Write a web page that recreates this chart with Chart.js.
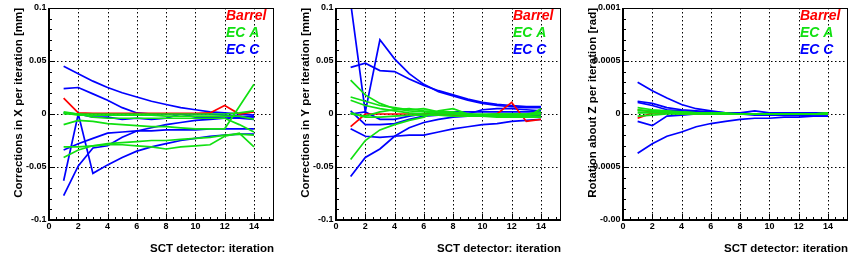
<!DOCTYPE html>
<html>
<head>
<meta charset="utf-8">
<script src="https://cdn.jsdelivr.net/npm/chart.js@4.4.1/dist/chart.umd.min.js"></script>
<style>
  body { margin: 0; background: #fff; }
  #wrap { position: relative; width: 861px; height: 261px; }
  canvas { position: absolute; top: 0; }
</style>
</head>
<body>
<div id="wrap">
  <canvas id="c_x" width="287" height="261" style="left:0px"></canvas>
  <canvas id="c_y" width="287" height="261" style="left:287px"></canvas>
  <canvas id="c_z" width="287" height="261" style="left:574px"></canvas>
</div>
<script>
// iterations of the SCT alignment
var iterations = [1, 2, 3, 4, 5, 6, 7, 8, 9, 10, 11, 12, 13, 14];

var xTickValues = [0, 2, 4, 6, 8, 10, 12, 14];
var xTickLabels = ['0', '2', '4', '6', '8', '10', '12', '14'];
var yTickValuesMm = [-0.1, -0.05, 0, 0.05, 0.1];
var yTickLabelsMm = ['-0.1', '-0.05', '0', '0.05', '0.1'];
var yTickValuesRad = [-0.001, -0.0005, 0, 0.0005, 0.001];
var yTickLabelsRad = ['-0.00', '-0.0005', '0', '0.0005', '0.001'];

var legendLabels = ['Barrel', 'EC A', 'EC C'];

// corrections in X [mm]
var xBarrel = [
  [0.015, 0.001, 0.0005, 0.0005, 0.0005, 0.0005, 0.0005, 0.0005, 0.0005, 0.0005, 0.001, 0.008, 0.000, 0.002]
];
var xECA = [
  [0.002, 0.000, 0.000, 0.000, 0.000, 0.000, 0.000, 0.000, 0.000, 0.000, 0.000, 0.000, 0.001, 0.003],
  [0.001, -0.001, -0.001, -0.001, -0.001, -0.001, -0.001, -0.002, -0.002, -0.002, -0.002, -0.002, -0.002, -0.005],
  [-0.010, -0.006, -0.007, -0.009, -0.010, -0.011, -0.012, -0.012, -0.013, -0.014, -0.014, -0.014, 0.007, 0.028],
  [-0.031, -0.031, -0.030, -0.029, -0.029, -0.030, -0.031, -0.033, -0.031, -0.030, -0.029, -0.021, -0.018, -0.031],
  [-0.041, -0.034, -0.030, -0.028, -0.027, -0.026, -0.025, -0.025, -0.024, -0.023, -0.022, -0.020, -0.019, -0.020],
  [0.000, 0.000, -0.003, -0.004, -0.004, -0.004, -0.004, -0.004, -0.004, -0.004, -0.004, -0.004, -0.010, -0.017]
];
var xECC = [
  [0.045, 0.038, 0.031, 0.025, 0.020, 0.016, 0.012, 0.009, 0.006, 0.004, 0.002, 0.001, 0.000, -0.001],
  [0.024, 0.025, 0.019, 0.013, 0.006, 0.001, 0.000, 0.000, 0.000, 0.000, 0.000, -0.001, -0.002, -0.003],
  [-0.063, 0.000, -0.056, -0.048, -0.041, -0.035, -0.031, -0.028, -0.025, -0.023, -0.021, -0.020, -0.019, -0.019],
  [-0.034, -0.028, -0.023, -0.018, -0.017, -0.016, -0.016, -0.015, -0.015, -0.015, -0.014, -0.014, -0.014, -0.014],
  [-0.077, -0.049, -0.032, -0.030, -0.022, -0.016, -0.013, -0.010, -0.008, -0.006, -0.005, -0.004, -0.003, -0.002],
  [0.001, 0.000, -0.003, -0.003, -0.005, -0.004, -0.005, -0.004, 0.000, -0.003, -0.003, -0.004, -0.004, -0.005]
];

// corrections in Y [mm]
var yBarrel = [
  [-0.012, 0.000, 0.000, 0.000, 0.000, 0.000, 0.000, -0.001, -0.001, -0.001, 0.000, 0.011, -0.007, -0.005]
];
var yECA = [
  [0.032, 0.018, 0.010, 0.005, 0.003, 0.002, 0.001, 0.000, 0.000, 0.000, 0.000, 0.000, 0.000, 0.001],
  [0.016, 0.012, 0.008, 0.006, 0.004, 0.005, 0.002, 0.001, 0.000, -0.001, -0.001, -0.001, -0.001, 0.000],
  [0.013, 0.008, 0.005, 0.003, 0.001, 0.000, 0.000, 0.000, -0.001, -0.001, 0.000, 0.000, 0.000, 0.002],
  [-0.043, -0.025, -0.015, -0.010, -0.006, -0.003, 0.003, 0.005, 0.000, -0.002, -0.002, -0.002, -0.002, -0.002],
  [0.000, -0.002, 0.002, 0.004, 0.005, 0.003, 0.002, 0.002, 0.000, -0.002, -0.002, -0.003, -0.003, 0.005],
  [0.001, -0.003, -0.003, -0.002, -0.001, -0.001, -0.001, -0.002, -0.002, -0.002, -0.003, -0.003, -0.003, -0.003]
];
var yECC = [
  [0.105, 0.002, 0.070, 0.052, 0.038, 0.028, 0.021, 0.017, 0.013, 0.010, 0.008, 0.007, 0.006, 0.006],
  [0.044, 0.048, 0.041, 0.040, 0.033, 0.027, 0.022, 0.018, 0.014, 0.011, 0.009, 0.008, 0.007, 0.007],
  [0.003, -0.010, -0.010, -0.009, -0.005, -0.002, -0.001, 0.000, 0.000, 0.004, 0.005, 0.005, 0.004, 0.003],
  [-0.014, -0.021, -0.022, -0.021, -0.020, -0.020, -0.017, -0.014, -0.012, -0.010, -0.009, -0.007, -0.006, -0.005],
  [-0.059, -0.041, -0.033, -0.021, -0.013, -0.008, -0.005, -0.003, -0.002, -0.002, -0.001, -0.001, -0.001, -0.001],
  [0.000, 0.002, -0.005, -0.005, -0.002, 0.000, 0.001, 0.002, 0.002, 0.002, 0.002, 0.002, 0.002, 0.002]
];

// rotation about Z [rad]
var zBarrel = [
  [0.00004, 0.00002, 0.00001, 0.00001, 0.00000, 0.00000, 0.00000, 0.00000, 0.00000, 0.00000, 0.00000, 0.00000, 0.00000, 0.00000],
  [-0.00004, 0.00001, 0.00001, 0.00000, 0.00000, 0.00000, 0.00000, 0.00000, 0.00000, 0.00000, 0.00000, 0.00000, 0.00000, 0.00000]
];
var zECA = [
  [0.00006, 0.00004, 0.00003, 0.00002, 0.00001, 0.00001, 0.00000, 0.00000, 0.00000, 0.00000, 0.00000, 0.00000, 0.00000, 0.00001],
  [0.00004, 0.00003, 0.00002, 0.00001, 0.00001, 0.00000, 0.00000, 0.00000, 0.00000, 0.00000, 0.00000, 0.00000, 0.00000, 0.00000],
  [0.00001, 0.00001, 0.00001, 0.00000, 0.00000, 0.00000, 0.00000, 0.00000, 0.00000, 0.00000, 0.00000, 0.00000, 0.00000, 0.00000],
  [-0.00002, -0.00001, 0.00000, 0.00000, 0.00000, 0.00000, 0.00000, 0.00000, 0.00000, 0.00000, 0.00000, 0.00000, 0.00000, 0.00000],
  [0.00003, 0.00003, 0.00002, 0.00002, 0.00001, 0.00001, 0.00001, 0.00000, 0.00000, 0.00000, 0.00000, 0.00000, 0.00000, 0.00001]
];
var zECC = [
  [0.00030, 0.00022, 0.00015, 0.00009, 0.00005, 0.00003, 0.00001, 0.00001, 0.00000, 0.00000, 0.00000, 0.00000, 0.00000, 0.00000],
  [0.00012, 0.00010, 0.00006, 0.00004, 0.00003, 0.00002, 0.00001, 0.00001, 0.00003, 0.00001, 0.00001, 0.00001, 0.00001, 0.00001],
  [0.00011, 0.00008, 0.00004, 0.00003, 0.00002, 0.00001, 0.00001, 0.00000, 0.00000, 0.00000, 0.00000, 0.00000, 0.00000, 0.00000],
  [-0.00007, -0.00011, -0.00002, -0.00001, 0.00000, 0.00000, 0.00000, 0.00000, -0.00001, -0.00001, -0.00001, -0.00001, -0.00002, -0.00002],
  [-0.00037, -0.00028, -0.00021, -0.00017, -0.00012, -0.00009, -0.00007, -0.00005, -0.00004, -0.00004, -0.00003, -0.00003, -0.00002, -0.00002]
];

var colBarrel = '#ff0000';
var colECA = '#11e011';
var colECC = '#0000ff';
var FONT = '"Liberation Sans", Arial, sans-serif';

// ROOT-like frame: inward ticks, dotted grid, titles, text legend
var rootStyle = {
  id: 'rootStyle',
  beforeDatasetsDraw: function (chart, args, o) {
    var ctx = chart.ctx, a = chart.chartArea, xs = chart.scales.x, ys = chart.scales.y;
    ctx.save();
    ctx.strokeStyle = '#000';
    ctx.lineWidth = 1;
    ctx.setLineDash([1.5, 2.5]);
    ctx.beginPath();
    o.xTicks.forEach(function (v) {
      if (v <= xs.min || v >= xs.max) return;
      var px = Math.round(xs.getPixelForValue(v)) + 0.5;
      ctx.moveTo(px, a.top); ctx.lineTo(px, a.bottom);
    });
    o.yTicks.forEach(function (v) {
      if (v <= ys.min || v >= ys.max) return;
      var py = Math.round(ys.getPixelForValue(v)) + 0.5;
      ctx.moveTo(a.left, py); ctx.lineTo(a.right, py);
    });
    ctx.stroke();
    ctx.restore();
  },
  afterDatasetsDraw: function (chart, args, o) {
    var ctx = chart.ctx, a = chart.chartArea, xs = chart.scales.x, ys = chart.scales.y;
    var i, n, p;
    ctx.save();
    ctx.strokeStyle = '#000';
    ctx.fillStyle = '#000';
    ctx.lineWidth = 1;
    ctx.strokeRect(a.left + 0.5, a.top + 0.5, a.right - a.left - 1, a.bottom - a.top - 1);
    ctx.lineWidth = 2;
    ctx.beginPath();
    ctx.moveTo(a.left, a.top);
    ctx.lineTo(a.left, a.bottom);
    ctx.lineTo(a.right, a.bottom);
    ctx.stroke();

    // minor + major ticks
    ctx.lineWidth = 1;
    ctx.beginPath();
    n = Math.round((ys.max - ys.min) / o.yMinor);
    for (i = 1; i < n; i++) {
      p = Math.round(ys.getPixelForValue(ys.min + i * o.yMinor)) + 0.5;
      ctx.moveTo(a.left, p); ctx.lineTo(a.left + 3, p);
    }
    n = Math.floor((xs.max - xs.min) / o.xMinor + 1e-6);
    for (i = 1; i <= n; i++) {
      p = Math.round(xs.getPixelForValue(xs.min + i * o.xMinor)) + 0.5;
      ctx.moveTo(p, a.bottom); ctx.lineTo(p, a.bottom - 3);
    }
    o.yTicks.forEach(function (v) {
      var py = Math.round(ys.getPixelForValue(v)) + 0.5;
      ctx.moveTo(a.left, py); ctx.lineTo(a.left + 6, py);
    });
    o.xTicks.forEach(function (v) {
      var px = Math.round(xs.getPixelForValue(v)) + 0.5;
      ctx.moveTo(px, a.bottom); ctx.lineTo(px, a.bottom - 6);
    });
    ctx.stroke();

    // tick labels
    ctx.font = 'bold 9px ' + FONT;
    ctx.textAlign = 'right';
    ctx.textBaseline = 'middle';
    o.yTicks.forEach(function (v, k) {
      ctx.fillText(o.yLabels[k], a.left - 2.5, ys.getPixelForValue(v));
    });
    ctx.textAlign = 'center';
    ctx.textBaseline = 'top';
    o.xTicks.forEach(function (v, k) {
      ctx.fillText(o.xLabels[k], xs.getPixelForValue(v), a.bottom + 2.5);
    });

    // axis titles
    ctx.font = 'bold 11.5px ' + FONT;
    ctx.textAlign = 'right';
    ctx.textBaseline = 'alphabetic';
    ctx.fillText(o.xTitle, a.right, a.bottom + 32);
    ctx.save();
    ctx.translate(a.left - 30, a.top);
    ctx.rotate(-Math.PI / 2);
    ctx.textBaseline = 'middle';
    ctx.fillText(o.yTitle, 0, 0);
    ctx.restore();

    // legend text
    ctx.font = 'italic bold 14px ' + FONT;
    ctx.textAlign = 'left';
    ctx.textBaseline = 'middle';
    var cols = [colBarrel, colECA, colECC];
    legendLabels.forEach(function (t, k) {
      ctx.fillStyle = cols[k];
      ctx.fillText(t, a.right - 48, a.top + 8.5 + k * 16.8);
    });
    ctx.restore();
  }
};

function makeSets(groups) {
  var sets = [];
  groups.forEach(function (g) {
    g.series.forEach(function (vals) {
      sets.push({
        data: vals.map(function (v, i) { return { x: iterations[i], y: v }; }),
        borderColor: g.color,
        borderWidth: 1.7,
        pointRadius: 0,
        fill: false,
        tension: 0
      });
    });
  });
  return sets;
}

function drawPanel(id, barrel, eca, ecc, yMin, yMax, yTicks, yLabels, yMinor, yTitle) {
  var ctx = document.getElementById(id);
  new Chart(ctx, {
    type: 'line',
    data: {
      // first dataset is drawn on top
      datasets: makeSets([
        { series: eca, color: colECA },
        { series: barrel, color: colBarrel },
        { series: ecc, color: colECC }
      ])
    },
    options: {
      responsive: false,
      animation: false,
      devicePixelRatio: 1,
      layout: { padding: { left: 49, right: 13, top: 8, bottom: 41 } },
      scales: {
        x: { type: 'linear', min: 0, max: 15.37, display: false },
        y: { type: 'linear', min: yMin, max: yMax, display: false }
      },
      plugins: {
        legend: { display: false },
        tooltip: { enabled: false },
        rootStyle: {
          xTicks: xTickValues, xLabels: xTickLabels, xMinor: 0.5,
          yTicks: yTicks, yLabels: yLabels, yMinor: yMinor,
          xTitle: 'SCT detector: iteration', yTitle: yTitle
        }
      }
    },
    plugins: [rootStyle]
  });
}

drawPanel('c_x', xBarrel, xECA, xECC, -0.1, 0.1, yTickValuesMm, yTickLabelsMm, 0.01,
  'Corrections in X per iteration [mm]');
drawPanel('c_y', yBarrel, yECA, yECC, -0.1, 0.1, yTickValuesMm, yTickLabelsMm, 0.01,
  'Corrections in Y per iteration [mm]');
drawPanel('c_z', zBarrel, zECA, zECC, -0.001, 0.001, yTickValuesRad, yTickLabelsRad, 0.0001,
  'Rotation about Z per iteration [rad]');
</script>
</body>
</html>
